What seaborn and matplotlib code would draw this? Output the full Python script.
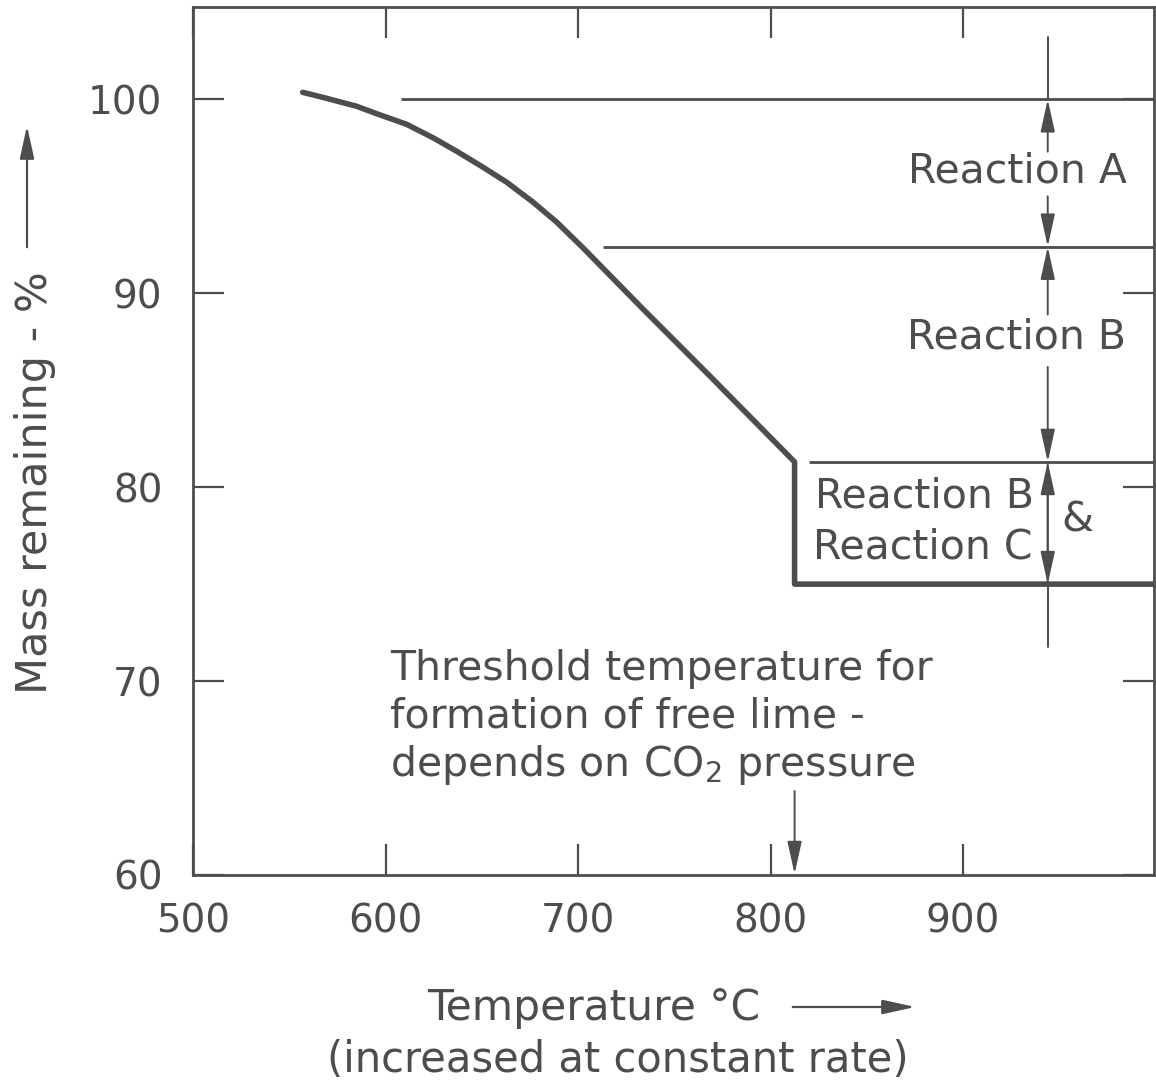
import matplotlib
matplotlib.use("Agg")
import matplotlib.pyplot as plt
import seaborn as sns
import pandas as pd

# ---- data ----
curve_temp = [557, 567.5, 585, 597, 611, 625, 637, 650.6, 663, 676.6, 689, 702.6,
              733.8, 768.6, 812.5, 812.5, 1000]
curve_mass = [100.36, 100.1, 99.64, 99.2, 98.71, 98.0, 97.32, 96.5, 95.72, 94.7, 93.66, 92.34,
              89.18, 85.72, 81.3, 75.0, 75.0]

level_mass = [100.0, 92.4, 81.3]          # reaction boundaries (thin lines)
level_start = [608, 713, 820]             # temperature where each line starts
final_mass = 75.0
threshold_temp = 812.5

x_ticks = [500, 600, 700, 800, 900]
x_labels = ["500", "600", "700", "800", "900"]
y_ticks = [60, 70, 80, 90, 100]
y_labels = ["60", "70", "80", "90", "100"]

ink = "#4d4d4d"

sns.set_theme(style="white")
plt.rcParams["font.family"] = ["DejaVu Sans"]

fig = plt.figure(figsize=(11.56, 10.86), dpi=100)
ax = fig.add_axes([193 / 1156, 1 - 875 / 1086, (1154 - 193) / 1156, (875 - 7) / 1086])

df = pd.DataFrame({"temp": curve_temp, "mass": curve_mass})
sns.lineplot(data=df, x="temp", y="mass", ax=ax, sort=False, estimator=None,
             color=ink, linewidth=4.0, solid_capstyle="round", solid_joinstyle="round")

ax.hlines(level_mass, level_start, 1000, colors=ink, linewidth=2.0)

ax.set_xlim(500, 999.2)
ax.set_ylim(60, 104.76)

# ticks inward on all sides
ax.set_xticks(x_ticks)
ax.set_xticklabels(x_labels)
ax.set_yticks(y_ticks)
ax.set_yticklabels(y_labels)
ax.tick_params(axis="both", direction="in", length=22, width=1.6, color=ink,
               labelcolor=ink, labelsize=28, top=True, right=True, left=True, bottom=True)
ax.tick_params(axis="x", pad=20)
ax.tick_params(axis="y", pad=22)
for s in ax.spines.values():
    s.set_color(ink)
    s.set_linewidth(2.0)
    s.set_visible(True)
ax.set_xlabel("")
ax.set_ylabel("")

# ---- dimension line with arrows ----
xd = 944
lw_dim = 1.4
def arrow(y_from, y_to, style="-|>"):
    ax.annotate("", xy=(xd, y_to), xytext=(xd, y_from),
                arrowprops=dict(arrowstyle=style + ",head_length=1.0,head_width=0.22",
                                color=ink, lw=lw_dim, mutation_scale=20,
                                shrinkA=0, shrinkB=0))

ax.plot([xd, xd], [103.2, level_mass[0]], color=ink, lw=lw_dim)
arrow(97.3, level_mass[0])
arrow(95.0, level_mass[1])
arrow(88.9, level_mass[1])
arrow(86.2, level_mass[2])
arrow(final_mass, level_mass[2])
arrow(level_mass[2], final_mass)
ax.plot([xd, xd], [final_mass, 71.75], color=ink, lw=lw_dim)

fs = 29.5
ax.text(928.5, 96.3, "Reaction A", ha="center", va="center", fontsize=fs, color=ink)
ax.text(928.0, 87.7, "Reaction B", ha="center", va="center", fontsize=fs, color=ink)
ax.text(823.0, 79.5, "Reaction B", ha="left", va="center", fontsize=fs, color=ink)
ax.text(822.0, 76.9, "Reaction C", ha="left", va="center", fontsize=fs, color=ink)
ax.text(959.5, 78.3, "&", ha="center", va="center", fontsize=fs, color=ink)

ax.text(602.3, 70.05, "Threshold temperature for", ha="left", va="baseline", fontsize=fs, color=ink)
ax.text(602.3, 67.6, "formation of free lime -", ha="left", va="baseline", fontsize=fs, color=ink)
ax.text(602.3, 65.1, "depends on CO$_2$ pressure", ha="left", va="baseline", fontsize=fs, color=ink)

ax.annotate("", xy=(threshold_temp, 60.05), xytext=(threshold_temp, 64.33),
            arrowprops=dict(arrowstyle="-|>,head_length=1.0,head_width=0.22", color=ink,
                            lw=lw_dim, mutation_scale=20, shrinkA=0, shrinkB=0))

# ---- axis titles with arrows (figure coords) ----
fig.text(35 / 1156, 1 - 483 / 1086, "Mass remaining - %", rotation=90, ha="center", va="center",
         fontsize=31, color=ink)
fig.patches.append(matplotlib.patches.FancyArrowPatch(
    (27 / 1156, 1 - 250 / 1086), (27 / 1156, 1 - 123 / 1086), transform=fig.transFigure,
    arrowstyle="-|>,head_length=1.0,head_width=0.22", mutation_scale=20, color=ink, lw=1.6))

fig.text(427 / 1156, 1 - 1020 / 1086, "Temperature °C", ha="left", va="baseline",
         fontsize=30.5, color=ink)
fig.patches.append(matplotlib.patches.FancyArrowPatch(
    (790 / 1156, 1 - 1007 / 1086), (918 / 1156, 1 - 1007 / 1086), transform=fig.transFigure,
    arrowstyle="-|>,head_length=1.0,head_width=0.22", mutation_scale=20, color=ink, lw=1.6))
fig.text(618 / 1156, 1 - 1060 / 1086, "(increased at constant rate)", ha="center", va="center",
         fontsize=30, color=ink)

fig.savefig("out.png", dpi=100)
